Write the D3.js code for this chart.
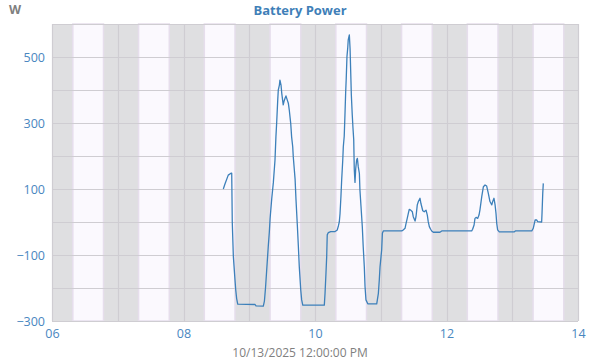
<!DOCTYPE html>
<html><head><meta charset="utf-8">
<script src="https://cdn.jsdelivr.net/npm/d3@7"></script>
<style>
html,body{margin:0;padding:0;background:#fff;}
svg{display:block;font-family:"Open Sans",sans-serif;}
</style></head>
<body><svg id="c" width="600" height="360"></svg>
<script>
const chartTitle = "Battery Power";
const unitLabel = "W";
const xAxisTitle = "10/13/2025 12:00:00 PM";
const day = "2025-10-13";
const times = ["08:36:20","08:37:50","08:40:50","08:43:20","08:44:00","08:44:30","08:45:30","08:47:00","08:47:40","08:48:30","08:49:30","09:05:20","09:06:10","09:12:50","09:13:50","09:14:50","09:15:50","09:17:20","09:18:20","09:19:00","09:20:30","09:22:00","09:23:30","09:24:20","09:25:00","09:26:00","09:26:30","09:27:30","09:28:00","09:29:00","09:29:40","09:31:00","09:31:40","09:32:40","09:33:30","09:34:40","09:35:40","09:36:30","09:37:50","09:38:40","09:39:40","09:40:10","09:41:10","09:41:50","09:42:40","09:43:50","09:44:50","09:45:40","09:47:00","09:47:50","09:48:50","10:08:30","10:09:10","10:10:00","10:10:40","10:11:10","10:12:10","10:14:20","10:18:20","10:20:20","10:21:20","10:22:10","10:22:50","10:23:40","10:24:20","10:25:20","10:25:50","10:26:40","10:27:20","10:28:00","10:28:30","10:29:10","10:29:50","10:30:20","10:31:20","10:32:00","10:32:30","10:33:10","10:34:00","10:34:40","10:35:20","10:35:50","10:36:30","10:37:10","10:38:00","10:38:40","10:39:30","10:40:30","10:41:00","10:42:00","10:43:10","10:44:00","10:45:00","10:45:40","10:46:30","10:48:10","10:56:20","10:57:50","10:58:40","10:59:20","11:00:50","11:01:30","11:02:20","11:19:10","11:20:30","11:22:10","11:23:00","11:24:10","11:25:10","11:26:00","11:27:20","11:28:50","11:29:40","11:31:20","11:32:10","11:33:20","11:34:20","11:35:50","11:36:40","11:38:20","11:39:40","11:41:20","11:42:30","11:43:20","11:44:20","11:45:30","11:46:30","11:48:00","11:54:00","11:55:40","12:23:00","12:23:50","12:25:10","12:26:00","12:27:00","12:28:30","12:29:40","12:30:30","12:32:10","12:33:40","12:35:10","12:36:40","12:38:10","12:39:40","12:41:20","12:42:10","12:43:20","12:44:20","12:45:10","12:45:50","12:46:40","12:48:10","13:01:40","13:02:50","13:17:50","13:19:10","13:20:50","13:22:20","13:23:10","13:26:50","13:27:10","13:27:50","13:28:20"];
const watts = [100,115,142,148,148,0,-105,-176,-206,-232,-249,-250,-254,-255,-240,-200,-150,-75,-30,10,70,120,188,258,299,370,400,415,430,415,390,355,365,375,382,370,360,340,299,258,228,198,157,130,67,-7,-75,-136,-206,-236,-252,-252,-216,-156,-105,-39,-32,-29,-29,-24,-12,0,25,77,127,188,228,260,324,395,435,501,526,552,567,526,465,385,324,284,250,160,120,162,188,193,167,147,97,46,-14,-75,-136,-196,-236,-248,-248,-216,-176,-136,-85,-34,-27,-27,-24,-19,-6,11,26,38,36,31,16,3,16,52,62,72,56,34,31,36,21,1,-14,-22,-27,-31,-31,-27,-27,-22,-9,11,14,11,21,36,77,107,112,109,87,62,52,62,72,52,26,-4,-24,-30,-30,-27,-27,-19,6,6,1,0,26,87,117];
const xDomain = ["06:00","14:00"];
const xTicks = ["06:00","08:00","10:00","12:00","14:00"];
const xGridTicks = ["06:00","07:00","08:00","09:00","10:00","11:00","12:00","13:00","14:00"];
const yDomain = [-300, 600];
const yTicks = [-300, -100, 100, 300, 500];
const yGridTicks = [-300, -200, -100, 0, 100, 200, 300, 400, 500, 600];
const bandStarts = ["06:19","07:19","08:19","09:19","10:19","11:19","12:19","13:19"];
const bandEnds   = ["06:47","07:47","08:47","09:47","10:47","11:47","12:47","13:47"];

const parse = d3.timeParse("%Y-%m-%d %H:%M:%S");
const T = s => parse(day + " " + (s.length === 5 ? s + ":00" : s));
const data = times.map((t, i) => ({t: T(t), v: watts[i]}));

const W = 600, H = 360;
const m = {left: 52, right: 22, top: 24, bottom: 39};
const svg = d3.select("#c");
const x = d3.scaleTime().domain(xDomain.map(T)).range([m.left, W - m.right]);
const y = d3.scaleLinear().domain(yDomain).range([H - m.bottom, m.top]);

// plot background
svg.append("rect").attr("x", m.left).attr("y", m.top)
  .attr("width", W - m.left - m.right).attr("height", H - m.top - m.bottom)
  .attr("fill", "#dfdfe1");
// light bands
svg.append("g").selectAll("rect").data(bandStarts).join("rect")
  .attr("x", (d) => x(T(d)))
  .attr("y", m.top)
  .attr("width", (d, i) => x(T(bandEnds[i])) - x(T(d)))
  .attr("height", H - m.top - m.bottom)
  .attr("fill", "#fbf9fe")
  .attr("stroke", "#e6deec").attr("stroke-width", 1.5);

// gridlines
svg.append("g").selectAll("line").data(yGridTicks).join("line")
  .attr("x1", m.left).attr("x2", W - m.right)
  .attr("y1", d => Math.round(y(d)) + 0.5).attr("y2", d => Math.round(y(d)) + 0.5)
  .attr("stroke", "#cfcdd2").attr("stroke-width", 1.2);
svg.append("g").selectAll("line").data(xGridTicks).join("line")
  .attr("x1", d => Math.round(x(T(d))) + 0.5).attr("x2", d => Math.round(x(T(d))) + 0.5)
  .attr("y1", m.top).attr("y2", H - m.bottom)
  .attr("stroke", "#cfcdd2").attr("stroke-width", 1.2);

// line
const line = d3.line().x(d => x(d.t)).y(d => y(d.v));
svg.append("path").datum(data).attr("d", line)
  .attr("fill", "none").attr("stroke", "#3d80ba").attr("stroke-width", 1.3)
  .attr("stroke-linejoin", "round");

// axes
const xAxis = d3.axisBottom(x).tickValues(xTicks.map(T)).tickFormat(d3.timeFormat("%H")).tickSize(0).tickPadding(8);
const gx = svg.append("g").attr("transform", `translate(0,${H - m.bottom})`).call(xAxis);
gx.select(".domain").remove();
gx.selectAll("text").attr("fill", "#4a87bf").attr("font-size", 12.5).attr("font-family", "Open Sans");

const yAxis = d3.axisLeft(y).tickValues(yTicks).tickSize(0).tickPadding(7);
const gy = svg.append("g").attr("transform", `translate(${m.left},0)`).call(yAxis);
gy.select(".domain").remove();
gy.selectAll("text").attr("fill", "#4a87bf").attr("font-size", 12.5).attr("font-family", "Open Sans");

// titles
svg.append("text").attr("x", 300).attr("y", 15).attr("text-anchor", "middle")
  .attr("font-size", 13).attr("font-weight", "bold").attr("fill", "#3f7fb8").text(chartTitle);
svg.append("text").attr("x", 9).attr("y", 14)
  .attr("font-size", 12.5).attr("font-weight", "bold").attr("fill", "#808080").text(unitLabel);
svg.append("text").attr("x", 300).attr("y", 357).attr("text-anchor", "middle")
  .attr("font-size", 12).attr("fill", "#808080").text(xAxisTitle);
</script></body></html>
